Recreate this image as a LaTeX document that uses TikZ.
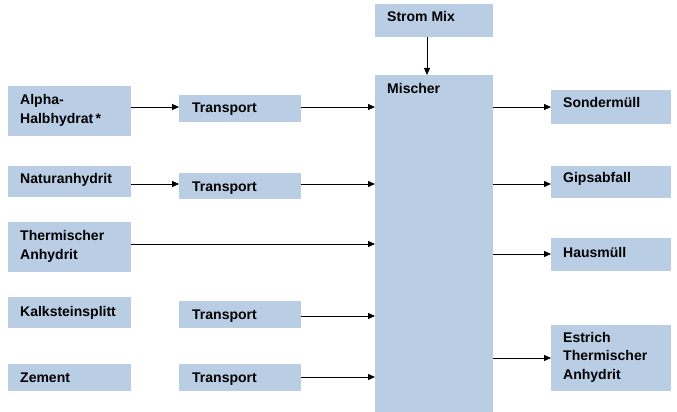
\documentclass[tikz,border=0pt]{standalone}
\usepackage{fontspec}
\setmainfont{Liberation Sans}
\usetikzlibrary{arrows.meta}
\definecolor{boxblue}{HTML}{B9CDE5}
\tikzset{
  box/.style={fill=boxblue, draw=none, inner sep=0pt, anchor=north west},
  lbl/.style={anchor=base west, inner sep=0pt, align=left, font=\bfseries\fontsize{14}{18.5}\selectfont},
  arr/.style={draw=black, line width=0.9pt, -{Triangle[length=7pt,width=6pt]}}
}
\newcommand{\bx}[5]{\node[box, minimum width=#4pt, minimum height=#5pt] (#1) at (#2,#3) {};}
\begin{document}
\begin{tikzpicture}[x=1pt,y=-1pt]
\useasboundingbox (0,0) rectangle (677,412);
% boxes
\bx{alpha}{8}{86}{123}{50}
\bx{t1}{179}{95}{122}{27}
\bx{nat}{8}{166}{123}{31}
\bx{t2}{179}{173}{122}{26}
\bx{therm}{8}{222}{123}{50}
\bx{kalk}{8}{297}{123}{31}
\bx{t3}{179}{301}{122}{27}
\bx{zem}{8}{364}{123}{27}
\bx{t4}{179}{364}{122}{27}
\bx{strom}{375}{4}{118}{33}
\bx{mix}{375}{75}{118}{337}
\bx{sond}{551}{90}{120}{34}
\bx{gips}{551}{166}{120}{32}
\bx{haus}{551}{238}{120}{33}
\bx{estr}{551}{325}{120}{66}
% labels
\node[lbl] (alphaT) at (20,123) {Alpha-\\Halbhydrat\,*};
\node[lbl] (t1T) at (192,112) {Transport};
\node[lbl] (natT) at (20,183) {Naturanhydrit};
\node[lbl] (t2T) at (192,191) {Transport};
\node[lbl] (thermT) at (20,259) {Thermischer\\Anhydrit};
\node[lbl] (kalkT) at (20,316) {Kalksteinsplitt};
\node[lbl] (t3T) at (192,319) {Transport};
\node[lbl] (zemT) at (20,382) {Zement};
\node[lbl] (t4T) at (192,382) {Transport};
\node[lbl] (stromT) at (387,22) {Strom Mix};
\node[lbl] (mixT) at (387,93) {Mischer};
\node[lbl] (sondT) at (563,107) {Sondermüll};
\node[lbl] (gipsT) at (563,182) {Gipsabfall};
\node[lbl] (hausT) at (563,257) {Hausmüll};
\node[lbl] (estrT) at (563,379) {Estrich\\Thermischer\\Anhydrit};
% arrows
\draw[arr] (alpha.east |- 0,107) -- (t1.west |- 0,107);
\draw[arr] (t1.east |- 0,107) -- (mix.west |- 0,107);
\draw[arr] (nat.east |- 0,184) -- (t2.west |- 0,184);
\draw[arr] (t2.east |- 0,184) -- (mix.west |- 0,184);
\draw[arr] (therm.east |- 0,244) -- (mix.west |- 0,244);
\draw[arr] (t3.east |- 0,316) -- (mix.west |- 0,316);
\draw[arr] (t4.east |- 0,377) -- (mix.west |- 0,377);
\draw[arr] (strom.south -| 427,0) -- (mix.north -| 427,0);
\draw[arr] (mix.east |- 0,107) -- (sond.west |- 0,107);
\draw[arr] (mix.east |- 0,184) -- (gips.west |- 0,184);
\draw[arr] (mix.east |- 0,254) -- (haus.west |- 0,254);
\draw[arr] (mix.east |- 0,358) -- (estr.west |- 0,358);
\end{tikzpicture}
\end{document}
